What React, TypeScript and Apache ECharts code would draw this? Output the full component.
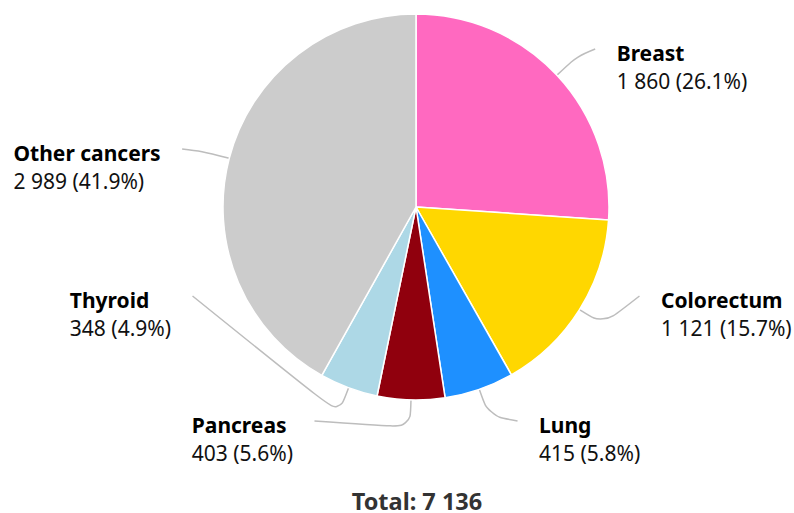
import React, { useEffect, useRef } from 'react';
import * as echarts from 'echarts';

const categories = ['Breast', 'Colorectum', 'Lung', 'Pancreas', 'Thyroid', 'Other cancers'];
const values = [1860, 1121, 415, 403, 348, 2989];
const colors = ['#FF69C0', '#FFD700', '#1E90FF', '#90000D', '#ADD8E6', '#CCCCCC'];
// layout only: vertical position (px) of each connector's outer end
const labelAnchorY = [49, 296, 421, 421, 296, 149];

const CX = 416;
const CY = 207;
const R = 193;
const ANCHOR_A = 241.3;
const ANCHOR_B = 235.9;
const BREAK = 28;
const GAP = 21.5;
const FONT = '"Noto Sans", "Open Sans", sans-serif';

function fmt(n: number): string {
  return String(n).replace(/\B(?=(\d{3})+(?!\d))/g, ' ');
}

export default function App() {
  const ref = useRef<HTMLDivElement>(null);
  useEffect(() => {
    if (!ref.current) return;
    const chart = echarts.init(ref.current, undefined, { renderer: 'svg' });
    const total = values.reduce((a, b) => a + b, 0);
    let cum = 0;
    const mids = values.map((v) => {
      const a = ((cum + v / 2) / total) * Math.PI * 2;
      cum += v;
      return a;
    });
    const data = categories.map((name, i) => ({
      name,
      value: values[i],
      itemStyle: { color: colors[i] },
    }));
    chart.setOption({
      animation: false,
      graphic: [
        {
          type: 'text',
          x: 417,
          y: 501,
          style: {
            text: 'Total: ' + fmt(total),
            font: 'bold 23.5px ' + FONT,
            lineHeight: 22,
            fill: '#333333',
            textAlign: 'center',
            textVerticalAlign: 'middle',
          },
        },
      ],
      series: [
        {
          type: 'pie',
          center: [CX, CY],
          radius: R,
          startAngle: 90,
          clockwise: true,
          avoidLabelOverlap: false,
          emphasis: { disabled: true },
          itemStyle: { borderColor: '#ffffff', borderWidth: 1.5 },
          label: {
            show: true,
            position: 'outside',
            fontFamily: FONT,
            formatter: (p: any) =>
              '{n|' + p.name + '}\n{v|' + fmt(p.value) + ' (' + (p.value / total * 100).toFixed(1) + '%)}',
            rich: {
              n: { fontFamily: FONT, fontSize: 21, fontWeight: 'bold', lineHeight: 28, color: '#000000' },
              v: { fontFamily: FONT, fontSize: 21, lineHeight: 28, color: '#111111' },
            },
          },
          labelLine: {
            show: true,
            smooth: 0.35,
            length: 20,
            length2: 20,
            lineStyle: { color: '#bdbdbd', width: 1.5 },
          },
          labelLayout: (params: any) => {
            const i = params.dataIndex;
            let p0: number[];
            if (params.labelLinePoints && params.labelLinePoints[0]) {
              p0 = params.labelLinePoints[0];
            } else {
              p0 = [CX + R * Math.sin(mids[i]), CY - R * Math.cos(mids[i])];
            }
            const vx = p0[0] - CX;
            const vy = p0[1] - CY;
            const len = Math.sqrt(vx * vx + vy * vy) || 1;
            const ux = vx / len;
            const uy = vy / len;
            const ey = labelAnchorY[i];
            const dy = ey - CY;
            const dxAbs = ANCHOR_A * Math.sqrt(Math.max(0, 1 - (dy * dy) / (ANCHOR_B * ANCHOR_B)));
            const right = p0[0] >= CX;
            const ex = right ? CX + dxAbs : CX - dxAbs;
            const bx = p0[0] + ux * BREAK;
            const by = p0[1] + uy * BREAK;
            const w = params.labelRect.width;
            return {
              x: right ? ex + GAP : ex - GAP - w,
              y: ey - 10,
              align: 'left',
              verticalAlign: 'top',
              labelLinePoints: [
                [p0[0], p0[1]],
                [bx, by],
                [ex, ey],
              ],
            };
          },
          data,
        },
      ],
    });
    return () => chart.dispose();
  }, []);
  return (
    <div
      ref={ref}
      style={{ position: 'absolute', left: 0, top: 0, width: '794px', height: '513px' }}
    />
  );
}
